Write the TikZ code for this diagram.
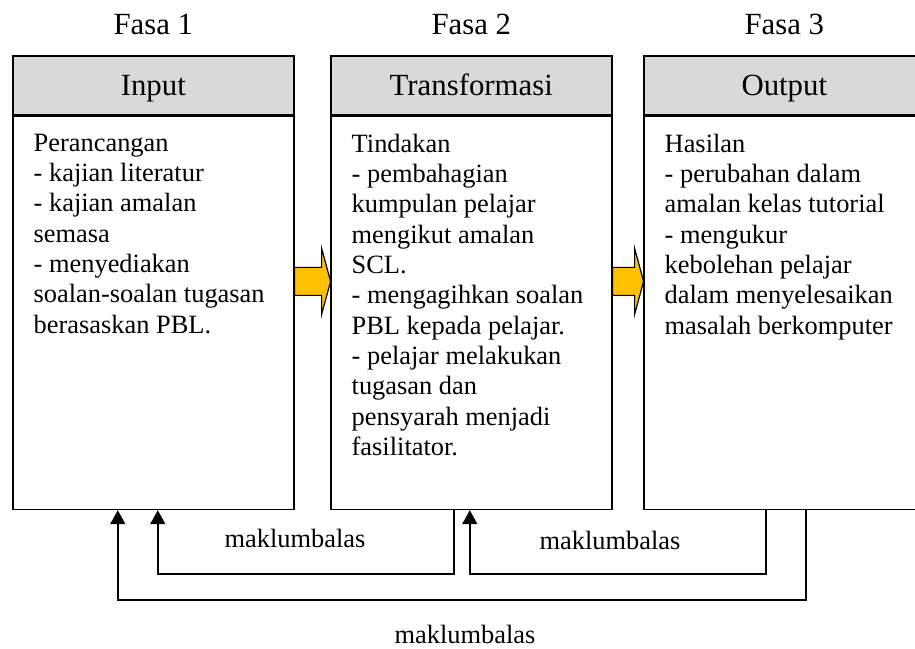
\documentclass[tikz,border=0pt]{standalone}
\usepackage{fontspec}
\setmainfont{Liberation Serif}
\usetikzlibrary{arrows.meta}
\definecolor{headgray}{RGB}{217,217,217}
\definecolor{arrowgold}{RGB}{255,192,0}

\begin{document}
\begin{tikzpicture}[x=1pt,y=1pt]
\tikzstyle{every node}+=[inner sep=0pt]
\tikzstyle{fasa}=[font=\fontsize{30.8}{35}\selectfont,anchor=base]
\tikzstyle{headbox}=[draw=black,line width=1.6pt,fill=headgray,minimum width=281pt,minimum height=59pt,anchor=north west,font=\fontsize{30.8}{35}\selectfont,text height=26pt,text depth=5pt]
\tikzstyle{bodybox}=[draw=black,line width=1.6pt,minimum width=281pt,minimum height=393pt,anchor=north west]
\tikzstyle{bodytext}=[anchor=north west,align=left,font=\fontsize{26.4}{30.36}\selectfont]
\tikzstyle{flowarrow}=[draw=black,line width=1.2pt,fill=arrowgold,line join=miter]
\tikzstyle{feedback}=[line width=1.5pt,-{Triangle[width=15pt,length=14pt]}]
\tikzstyle{fblabel}=[font=\fontsize{26.4}{30.36}\selectfont,anchor=base]
\useasboundingbox (0,0) rectangle (915,648);
\clip (0,0) rectangle (915,648);
\node[headbox] (inhead) at (12,593) {Input};
\node[bodybox] (inbody) at (inhead.south west) {};
\node[headbox] (trhead) at (330,593) {Transformasi};
\node[bodybox] (trbody) at (trhead.south west) {};
\node[headbox] (outhead) at (643,593) {Output};
\node[bodybox] (outbody) at (outhead.south west) {};
\node[fasa] (fasa1) at ([yshift=20pt]inhead.north) {Fasa 1};
\node[fasa] (fasa2) at ([yshift=20pt]trhead.north) {Fasa 2};
\node[fasa] (fasa3) at ([yshift=20pt]outhead.north) {Fasa 3};
\node[bodytext] (intext) at ([xshift=21.5pt,yshift=-18pt]inbody.north west) {Perancangan\\- kajian literatur\\- kajian amalan\\semasa\\- menyediakan\\soalan-soalan tugasan\\berasaskan PBL.};
\node[bodytext] (trtext) at ([xshift=21.5pt,yshift=-18pt]trbody.north west) {Tindakan\\- pembahagian\\kumpulan pelajar\\mengikut amalan\\SCL.\\- mengagihkan soalan\\PBL kepada pelajar.\\- pelajar melakukan\\tugasan dan\\pensyarah menjadi\\fasilitator.};
\node[bodytext] (outtext) at ([xshift=21.5pt,yshift=-18pt]outbody.north west) {Hasilan\\- perubahan dalam\\amalan kelas tutorial\\- mengukur\\kebolehan pelajar\\dalam menyelesaikan\\masalah berkomputer};
\coordinate (a1) at ([yshift=31.5pt]inbody.east);
\coordinate (a2) at ([yshift=31.5pt]trbody.east);
\draw[flowarrow] (a1) ++(0,14) -- ++(27,0) -- ++(0,19) -- ++(9,-33) -- ++(-9,-33) -- ++(0,19) -- ++(-27,0) -- cycle;
\draw[flowarrow] (a2) ++(0,14) -- ++(22,0) -- ++(0,19) -- ++(9,-33) -- ++(-9,-33) -- ++(0,19) -- ++(-22,0) -- cycle;
\draw[feedback] ([xshift=21.5pt]outbody.south) -- ++(0,-90) -| ([xshift=-35.5pt]inbody.south);
\draw[feedback] ([xshift=-17.5pt]trbody.south) -- ++(0,-64) -| ([xshift=4.5pt]inbody.south);
\draw[feedback] ([xshift=-18.5pt]outbody.south) -- ++(0,-64) -| ([xshift=-1.5pt]trbody.south);
\node[fblabel] (fb1) at (295,101) {maklumbalas};
\node[fblabel] (fb2) at (610,99) {maklumbalas};
\node[fblabel] (fb3) at (465,5) {maklumbalas};
\end{tikzpicture}
\end{document}
